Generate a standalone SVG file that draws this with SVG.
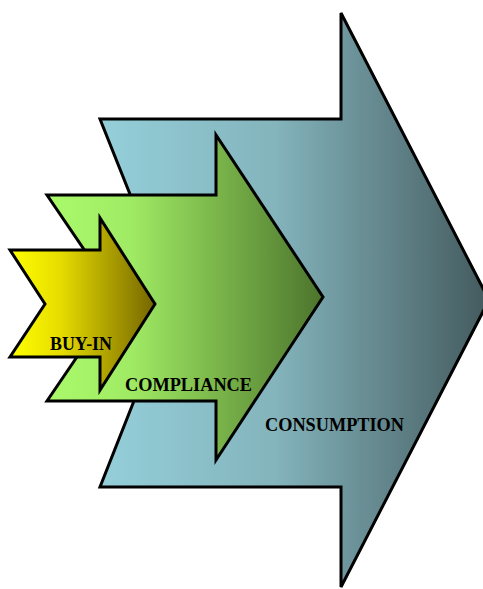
<svg xmlns="http://www.w3.org/2000/svg" width="483" height="589" viewBox="0 0 483 589">
<defs>
<linearGradient id="gBlue" x1="0" y1="0" x2="1" y2="0">
<stop offset="0" stop-color="#94CFDA"/>
<stop offset="0.45" stop-color="#84B4BC"/>
<stop offset="1" stop-color="#435A5E"/>
</linearGradient>
<linearGradient id="gGreen" x1="0" y1="0" x2="1" y2="0">
<stop offset="0" stop-color="#AAFA6B"/>
<stop offset="0.3" stop-color="#A0EB64"/>
<stop offset="1" stop-color="#4C742C"/>
</linearGradient>
<linearGradient id="gYellow" x1="0" y1="0" x2="1" y2="0">
<stop offset="0" stop-color="#FFFF00"/>
<stop offset="0.35" stop-color="#E6DC00"/>
<stop offset="1" stop-color="#756600"/>
</linearGradient>
<style>
.arrow{stroke:#000;stroke-width:3;stroke-linejoin:miter}
.lbl{font-family:"Liberation Serif","Times New Roman",serif;font-weight:bold;fill:#000}
</style>
</defs>
<g id="consumption">
<polygon class="arrow" fill="url(#gBlue)" points="100,119 341,119 341,13 489,300 341,587 341,487 100,487 173,302"/>
<text class="lbl" x="265" y="431" font-size="18.4" textLength="139" lengthAdjust="spacingAndGlyphs">CONSUMPTION</text>
</g>
<g id="compliance">
<polygon class="arrow" fill="url(#gGreen)" points="47,195 216,195 216,135 323,297 216,460 216,401 47,401 117,298"/>
<text class="lbl" x="125" y="391" font-size="18.4" textLength="127" lengthAdjust="spacingAndGlyphs">COMPLIANCE</text>
</g>
<g id="buy-in">
<polygon class="arrow" fill="url(#gYellow)" points="10,250 100,250 100,218 155,304 100,390 100,357 10,357 45,304"/>
<text class="lbl" x="50" y="350" font-size="18" textLength="62" lengthAdjust="spacingAndGlyphs">BUY-IN</text>
</g>
<g id="connectors"/>
</svg>
